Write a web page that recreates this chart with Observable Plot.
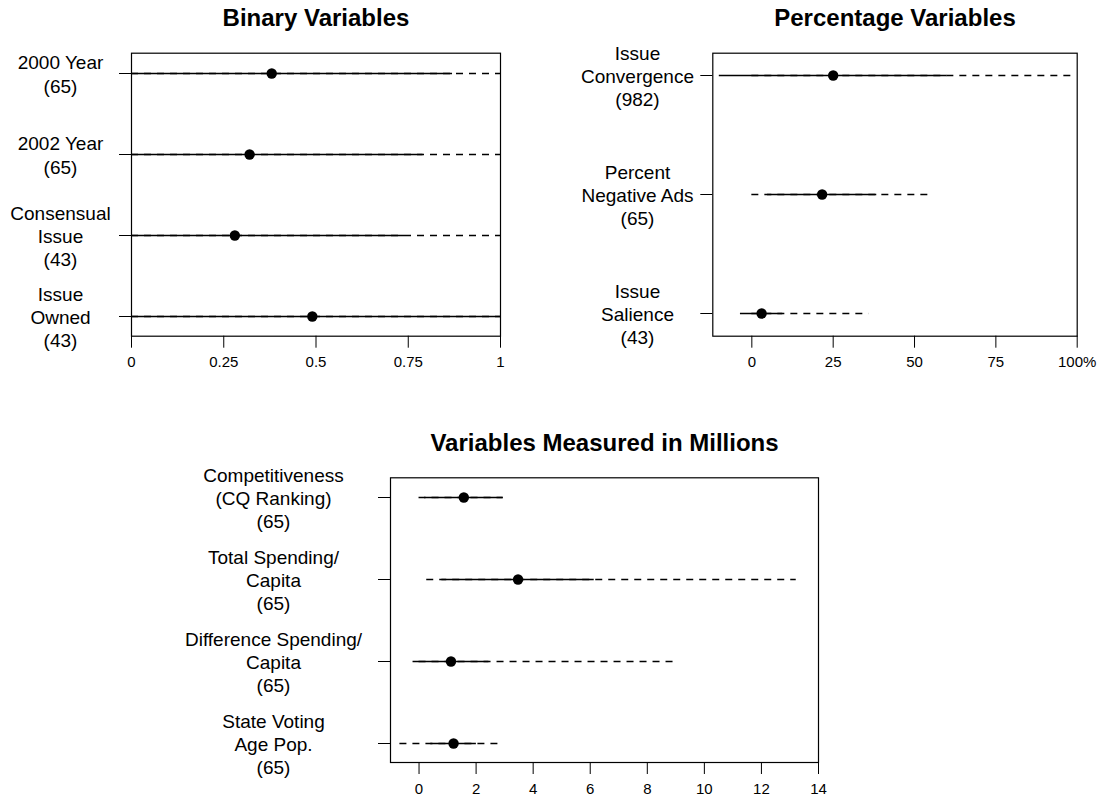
<!DOCTYPE html>
<html>
<head>
<meta charset="utf-8">
<script src="https://cdn.jsdelivr.net/npm/d3@7"></script>
<script src="https://cdn.jsdelivr.net/npm/@observablehq/plot@0.6"></script>
<style>
  html, body { margin: 0; padding: 0; background: #fff; }
  #wrap { position: relative; width: 1101px; height: 797px; overflow: hidden; background: #fff; }
  #wrap svg { position: absolute; }
</style>
</head>
<body>
<div id="wrap"></div>
<script>
// ---- Binary Variables ----
const binaryLabels = ["2000 Year\n(65)", "2002 Year\n(65)", "Consensual\nIssue\n(43)", "Issue\nOwned\n(43)"];
const binaryMean = [0.38, 0.32, 0.28, 0.49];
const binarySd = [0.49, 0.47, 0.46, 0.51];
const binaryMin = [0, 0, 0, 0];
const binaryMax = [1, 1, 1, 1];
const binaryTicks = [0, 0.25, 0.5, 0.75, 1];

// ---- Percentage Variables ----
const pctLabels = ["Issue\nConvergence\n(982)", "Percent\nNegative Ads\n(65)", "Issue\nSalience\n(43)"];
const pctMean = [25, 21.6, 3];
const pctSd = [35, 16.8, 6.5];
const pctMin = [0, 0, 0];
const pctMax = [99, 55.2, 36];
const pctTicks = [0, 25, 50, 75, 100];

// ---- Variables Measured in Millions ----
const milLabels = ["Competitiveness\n(CQ Ranking)\n(65)", "Total Spending/\nCapita\n(65)", "Difference Spending/\nCapita\n(65)", "State Voting\nAge Pop.\n(65)"];
const milMean = [1.57, 3.47, 1.12, 1.21];
const milSd = [1.38, 2.67, 1.33, 0.8];
const milMin = [0, 0.27, 0, -0.67];
const milMax = [2.95, 13.22, 9.07, 2.89];
const milTicks = [0, 2, 4, 6, 8, 10, 12, 14];

function rows(labels, mean, sd, min, max) {
  return labels.map((label, i) => ({label, mean: mean[i], lo: mean[i] - sd[i], hi: mean[i] + sd[i], min: min[i], max: max[i]}));
}

function panel({title, data, labels, xDomain, ticks, tickFmt, yPadding, left, top, width, height, margins, labelDx, titleDy}) {
  const svg = Plot.plot({
    width, height,
    marginLeft: margins[0], marginRight: margins[1], marginTop: margins[2], marginBottom: margins[3],
    style: {fontFamily: "'Liberation Sans', Arial, Helvetica, sans-serif", fontSize: "15px", color: "black", background: "white", overflow: "visible"},
    x: {domain: xDomain, label: null},
    y: {type: "point", domain: labels, padding: yPadding, label: null},
    marks: [
      Plot.ruleY(data, {y: "label", x1: "min", x2: "max", stroke: "black", strokeWidth: 1.3, strokeDasharray: "7,6", clip: true}),
      Plot.ruleY(data, {y: "label", x1: "lo", x2: "hi", stroke: "black", strokeWidth: 1.5, clip: true}),
      Plot.dot(data, {y: "label", x: "mean", r: 5.2, fill: "black", stroke: null}),
      Plot.frame({stroke: "black", strokeWidth: 1.2}),
      Plot.axisX({ticks, tickSize: 12, tickPadding: 8.5, tickFormat: tickFmt, fontSize: 15, label: null}),
      Plot.axisY({tickSize: 12, tickFormat: () => "", label: null}),
      Plot.text(data, {y: "label", text: "label", frameAnchor: "left", dx: labelDx, textAnchor: "middle", lineAnchor: "middle", fontSize: 19, lineHeight: 1.22}),
      Plot.text([title], {text: d => d, frameAnchor: "top", dy: titleDy, fontSize: 24, fontWeight: "bold", lineAnchor: "middle"})
    ]
  });
  svg.style.left = left + "px";
  svg.style.top = top + "px";
  document.getElementById("wrap").appendChild(svg);
}

panel({
  title: "Binary Variables",
  data: rows(binaryLabels, binaryMean, binarySd, binaryMin, binaryMax),
  labels: binaryLabels, xDomain: [0, 1], ticks: binaryTicks,
  tickFmt: d => String(d), yPadding: 0.226,
  left: 0, top: 0, width: 520, height: 380, margins: [131, 20, 52.7, 44.3],
  labelDx: -71, titleDy: -35
});

panel({
  title: "Percentage Variables",
  data: rows(pctLabels, pctMean, pctSd, pctMin, pctMax),
  labels: pctLabels, xDomain: [-12, 100], ticks: pctTicks,
  tickFmt: d => d === 100 ? "100%" : String(d), yPadding: 0.183,
  left: 560, top: 0, width: 541, height: 380, margins: [152.3, 24.3, 52.7, 44.3],
  labelDx: -75.3, titleDy: -35
});

panel({
  title: "Variables Measured in Millions",
  data: rows(milLabels, milMean, milSd, milMin, milMax),
  labels: milLabels, xDomain: [-1, 14], ticks: milTicks,
  tickFmt: d => String(d), yPadding: 0.232,
  left: 180, top: 400, width: 700, height: 397, margins: [210, 62, 77.3, 35],
  labelDx: -117, titleDy: -34
});
</script>
</body>
</html>
